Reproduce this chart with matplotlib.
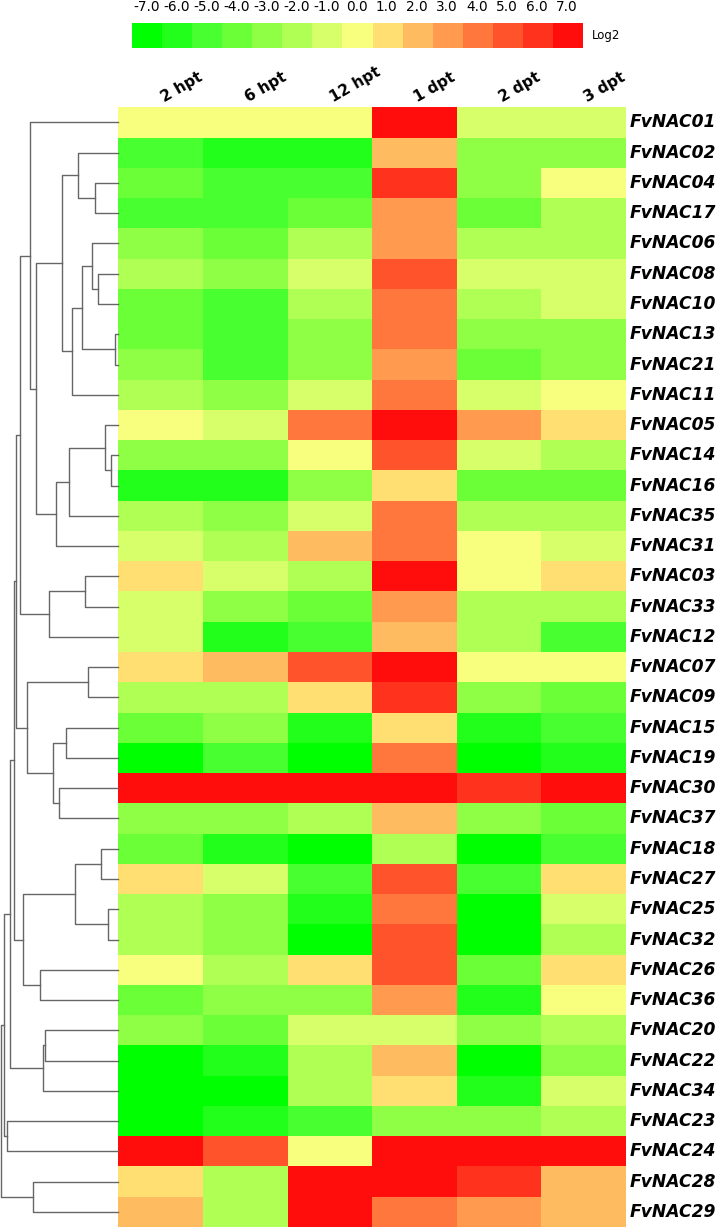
import numpy as np
import matplotlib
matplotlib.use("Agg")
import matplotlib.pyplot as plt
from matplotlib.colors import ListedColormap, BoundaryNorm

# row order as it appears in the clustered heatmap (top to bottom)
genes = ["FvNAC01", "FvNAC02", "FvNAC04", "FvNAC17", "FvNAC06", "FvNAC08",
         "FvNAC10", "FvNAC13", "FvNAC21", "FvNAC11", "FvNAC05", "FvNAC14",
         "FvNAC16", "FvNAC35", "FvNAC31", "FvNAC03", "FvNAC33", "FvNAC12",
         "FvNAC07", "FvNAC09", "FvNAC15", "FvNAC19", "FvNAC30", "FvNAC37",
         "FvNAC18", "FvNAC27", "FvNAC25", "FvNAC32", "FvNAC26", "FvNAC36",
         "FvNAC20", "FvNAC22", "FvNAC34", "FvNAC23", "FvNAC24", "FvNAC28",
         "FvNAC29"]
times = ["2 hpt", "6 hpt", "12 hpt", "1 dpt", "2 dpt", "3 dpt"]

log2_levels = list(range(-7, 8))
level_colors = ["#00FF00", "#22FF1A", "#48FF30", "#6BFF38", "#8FFF45",
                "#B0FF55", "#D6FF6A", "#F8FF7E", "#FFDF72", "#FFBB60",
                "#FF9A4E", "#FF773C", "#FF532C", "#FF321E", "#FF0D0D"]

# log2 fold change per gene (rows) and time point (columns)
log2fc = [
    [0, 0, 0, 7, -1, -1],
    [-5, -6, -6, 2, -3, -3],
    [-4, -5, -5, 6, -3, 0],
    [-5, -5, -4, 3, -4, -2],
    [-3, -4, -2, 3, -2, -2],
    [-2, -3, -1, 5, -1, -1],
    [-4, -5, -2, 4, -2, -1],
    [-4, -5, -3, 4, -3, -3],
    [-3, -5, -3, 3, -4, -3],
    [-2, -3, -1, 4, -1, 0],
    [0, -1, 4, 7, 3, 1],
    [-3, -3, 0, 5, -1, -2],
    [-6, -6, -3, 1, -4, -4],
    [-2, -3, -1, 4, -2, -2],
    [-1, -2, 2, 4, 0, -1],
    [1, -1, -2, 7, 0, 1],
    [-1, -3, -4, 3, -2, -2],
    [-1, -6, -5, 2, -2, -5],
    [1, 2, 5, 7, 0, 0],
    [-2, -2, 1, 6, -3, -4],
    [-4, -3, -6, 1, -6, -5],
    [-7, -5, -7, 4, -7, -6],
    [7, 7, 7, 7, 6, 7],
    [-3, -3, -2, 2, -3, -4],
    [-4, -6, -7, -2, -7, -5],
    [1, -1, -5, 5, -5, 1],
    [-2, -3, -6, 4, -7, -1],
    [-2, -3, -7, 5, -7, -2],
    [0, -2, 1, 5, -4, 1],
    [-4, -3, -3, 3, -6, 0],
    [-3, -4, -1, -1, -3, -2],
    [-7, -6, -2, 2, -7, -3],
    [-7, -7, -2, 1, -6, -1],
    [-7, -6, -5, -3, -3, -2],
    [7, 5, 0, 7, 7, 7],
    [1, -2, 7, 7, 6, 2],
    [2, -2, 7, 4, 3, 2],
]

# row dendrogram as a linkage list: (child a, child b, distance)
# leaves are 0..36, new nodes get numbers from 37 on
merges = [
    (2, 3, 23.3), (1, 37, 40.0), (5, 6, 20.7), (4, 39, 26.7),
    (7, 8, 3.7), (40, 41, 36.7), (42, 9, 46.7), (38, 43, 56.3),
    (11, 12, 7.7), (10, 45, 13.7), (46, 13, 49.7), (47, 14, 62.7),
    (44, 48, 82.3), (0, 49, 88.3), (15, 16, 33.3), (51, 17, 69.0),
    (50, 52, 98.3), (18, 19, 30.3), (20, 21, 52.7), (22, 23, 59.7),
    (55, 56, 65.7), (54, 57, 91.7), (53, 58, 102.0), (24, 25, 17.3),
    (26, 27, 10.7), (60, 61, 43.3), (28, 29, 78.7), (62, 63, 95.3),
    (59, 64, 104.7), (30, 31, 73.0), (66, 32, 75.7), (65, 67, 108.0),
    (33, 34, 111.7), (68, 69, 114.7), (35, 36, 85.7), (70, 71, 117.3),
]

W, H = 720, 1227
fig = plt.figure(figsize=(W / 100, H / 100), dpi=100)


def px_axes(x0, y0, x1, y1):
    return fig.add_axes([x0 / W, 1 - y1 / H, (x1 - x0) / W, (y1 - y0) / H])


cmap = ListedColormap(level_colors)
norm = BoundaryNorm(np.arange(-7.5, 8.5, 1), cmap.N)
n_rows = len(genes)

# heatmap
ax = px_axes(118.3, 107.3, 626, 1227)
ax.pcolormesh(np.arange(len(times) + 1), np.arange(n_rows + 1), np.array(log2fc),
              cmap=cmap, norm=norm)
ax.set_xlim(0, len(times))
ax.set_ylim(n_rows, 0)
ax.set_axis_off()

for i, g in enumerate(genes):
    ax.text(1.008, i + 0.5, g, transform=ax.get_yaxis_transform(),
            ha="left", va="center", fontsize=12.3, fontweight="bold", style="italic")

for j, t in enumerate(times):
    ax.text(j + 0.47, -0.07, t, rotation=30, ha="left", va="bottom",
            fontsize=11, fontweight="bold")

# dendrogram
axd = px_axes(0, 107.3, 118.3, 1227)
axd.set_xlim(118.3, 0)
axd.set_ylim(n_rows, 0)
axd.set_axis_off()
pos = {i: i + 0.5 for i in range(n_rows)}
hgt = {i: 0.0 for i in range(n_rows)}
for k, (a, b, h) in enumerate(merges):
    axd.plot([hgt[a], h, h, hgt[b]], [pos[a], pos[a], pos[b], pos[b]],
             color="#666666", lw=1, clip_on=False)
    node = n_rows + k
    pos[node] = (pos[a] + pos[b]) / 2
    hgt[node] = h

# colour key
axc = px_axes(131.7, 23.3, 581.7, 47.7)
axc.imshow(np.array([log2_levels]), cmap=cmap, norm=norm, aspect="auto",
           extent=(-0.5, len(log2_levels) - 0.5, 0.5, -0.5))
axc.set_axis_off()
for i, v in enumerate(log2_levels):
    axc.text(i, 1.68, "%.1f" % v, transform=axc.get_xaxis_transform(),
             ha="center", va="center", fontsize=9.8)
fig.text(591.7 / W, 1 - 35 / H, "Log2", ha="left", va="center", fontsize=8.5)

fig.savefig("out.png", dpi=100)
